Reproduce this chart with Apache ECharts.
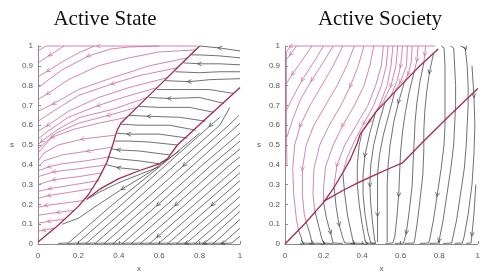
<!DOCTYPE html>
<html><head><meta charset="utf-8">
<script src="https://cdn.jsdelivr.net/npm/echarts@6/dist/echarts.min.js"></script>
<style>html,body{margin:0;padding:0;background:#fff}#c{width:483px;height:278px}</style>
</head><body><div id="c"></div>
<script>
// ---------- data ----------
const titles = ['Active State', 'Active Society'];
const xTicks = [0, 0.2, 0.4, 0.6, 0.8, 1];
const yTicks = [0, 0.1, 0.2, 0.3, 0.4, 0.5, 0.6, 0.7, 0.8, 0.9, 1];

// Active State: red boundary curves
const stateBoundA = [[0,0.01],[0.1,0.095],[0.2,0.19],[0.25,0.25],[0.3,0.33],[0.34,0.41],[0.37,0.5],[0.39,0.57],[0.41,0.61],[0.5,0.7],[0.6,0.8],[0.7,0.9],[0.8,1.0]];
const stateBoundB = [[1.0,0.79],[0.85,0.65],[0.69,0.5],[0.64,0.43],[0.6,0.405],[0.5,0.37],[0.4,0.33],[0.31,0.28],[0.24,0.225]];
// Active State: magenta streamlines (start -> end)
const statePink = [
 [[0.79,1.0],[0.55,1.0],[0.3,1.0],[0.04,1.0],[0.0,0.975]],
 [[0.13,1.0],[0.06,0.955],[0.0,0.915]],
 [[0.28,1.0],[0.2,0.965],[0.12,0.92],[0.05,0.875],[0,0.845]],
 [[0.6,1.0],[0.45,0.995],[0.36,0.985],[0.25,0.95],[0.12,0.88],[0.04,0.82],[0,0.79]],
 [[0.78,0.98],[0.6,0.97],[0.45,0.94],[0.3,0.9],[0.15,0.83],[0.05,0.76],[0,0.73]],
 [[0.74,0.94],[0.55,0.9],[0.37,0.84],[0.2,0.78],[0.08,0.71],[0,0.67]],
 [[0.69,0.89],[0.5,0.85],[0.37,0.81],[0.2,0.75],[0.09,0.68],[0,0.62]],
 [[0.64,0.84],[0.45,0.79],[0.3,0.74],[0.15,0.67],[0.05,0.6],[0,0.57]],
 [[0.59,0.79],[0.42,0.74],[0.3,0.7],[0.15,0.64],[0.05,0.57],[0,0.53]],
 [[0.54,0.74],[0.37,0.68],[0.21,0.64],[0.1,0.58],[0.02,0.52],[0,0.5]],
 [[0.49,0.69],[0.35,0.65],[0.2,0.61],[0.09,0.56],[0,0.48]],
 [[0.44,0.64],[0.3,0.61],[0.18,0.58],[0.07,0.54],[0,0.46]],
 [[0.385,0.55],[0.3,0.54],[0.22,0.53],[0.1,0.5],[0.03,0.46],[0,0.42]],
 [[0.37,0.49],[0.25,0.47],[0.12,0.45],[0.03,0.42],[0,0.39]],
 [[0.355,0.44],[0.236,0.42],[0.12,0.405],[0.055,0.39],[0,0.37]],
 [[0.34,0.4],[0.2,0.38],[0.08,0.365],[0,0.34]],
 [[0.32,0.36],[0.2,0.34],[0.08,0.325],[0,0.3]],
 [[0.3,0.32],[0.18,0.3],[0.06,0.28],[0,0.265]],
 [[0.27,0.28],[0.15,0.26],[0.055,0.245],[0,0.23]],
 [[0.23,0.22],[0.12,0.205],[0.04,0.195],[0,0.185]],
 [[0.18,0.17],[0.1,0.16],[0,0.145]],
 [[0.13,0.125],[0.055,0.115],[0,0.105]],
 [[0.08,0.08],[0.03,0.07],[0,0.065]]
];
// Active State: black streamlines
const stateBlack = [
 [[1,0.975],[0.9,0.99],[0.8,1.0]],
 [[1,0.94],[0.9,0.95],[0.8,0.955],[0.76,0.955]],
 [[1,0.905],[0.9,0.91],[0.8,0.91],[0.72,0.915]],
 [[1,0.87],[0.9,0.87],[0.8,0.865],[0.68,0.87]],
 [[1,0.835],[0.85,0.83],[0.75,0.82],[0.63,0.825]],
 [[0.97,0.76],[0.85,0.78],[0.72,0.78],[0.59,0.78]],
 [[0.92,0.71],[0.8,0.74],[0.65,0.735],[0.55,0.74]],
 [[0.87,0.665],[0.75,0.69],[0.6,0.69],[0.5,0.695]],
 [[0.83,0.62],[0.7,0.64],[0.55,0.645],[0.45,0.65]],
 [[0.78,0.575],[0.65,0.6],[0.5,0.6],[0.41,0.605]],
 [[0.74,0.535],[0.6,0.555],[0.45,0.555],[0.39,0.56]],
 [[0.69,0.5],[0.55,0.515],[0.45,0.52],[0.38,0.52]],
 [[0.65,0.45],[0.5,0.47],[0.4,0.475],[0.365,0.48]],
 [[0.6,0.405],[0.5,0.42],[0.4,0.43],[0.35,0.44]],
 [[0.5,0.375],[0.4,0.385],[0.34,0.4]],
 [[1,0.04],[0.96,0.005],[0.91,0.003]],
 [[1,0.08],[0.955,0.04],[0.915,0.005],[0.865,0.003]],
 [[1,0.125],[0.91,0.04],[0.87,0.005],[0.82,0.003]],
 [[1,0.165],[0.865,0.04],[0.825,0.005],[0.775,0.003]],
 [[1,0.2],[0.9,0.11],[0.82,0.04],[0.78,0.005],[0.73,0.003]],
 [[1,0.24],[0.955,0.2],[0.775,0.04],[0.735,0.005],[0.685,0.003]],
 [[1,0.28],[0.91,0.2],[0.73,0.04],[0.69,0.005],[0.64,0.003]],
 [[1,0.32],[0.865,0.2],[0.685,0.04],[0.645,0.005],[0.595,0.003]],
 [[1,0.36],[0.82,0.2],[0.64,0.04],[0.6,0.005],[0.55,0.003]],
 [[1,0.4],[0.775,0.2],[0.595,0.04],[0.555,0.005],[0.505,0.003]],
 [[1,0.44],[0.95,0.4],[0.73,0.2],[0.55,0.04],[0.51,0.005],[0.46,0.003]],
 [[1,0.48],[0.905,0.4],[0.685,0.2],[0.505,0.04],[0.465,0.005],[0.415,0.003]],
 [[1,0.52],[0.86,0.4],[0.64,0.2],[0.46,0.04],[0.42,0.005],[0.37,0.003]],
 [[1,0.56],[0.815,0.4],[0.595,0.2],[0.415,0.04],[0.375,0.005],[0.325,0.003]],
 [[1,0.61],[0.77,0.4],[0.55,0.2],[0.37,0.04],[0.33,0.005],[0.28,0.003]],
 [[0.995,0.65],[0.945,0.6],[0.725,0.4],[0.505,0.2],[0.325,0.04],[0.285,0.005],[0.235,0.003]],
 [[0.95,0.69],[0.9,0.6],[0.68,0.4],[0.46,0.2],[0.28,0.04],[0.24,0.005],[0.19,0.003]],
 [[0.9,0.64],[0.855,0.6],[0.635,0.4],[0.415,0.2],[0.235,0.04],[0.195,0.005],[0.145,0.003]],
 [[0.8,0.56],[0.59,0.38],[0.37,0.2],[0.19,0.04],[0.15,0.005],[0.1,0.003]],
 [[0.7,0.47],[0.55,0.36],[0.42,0.28],[0.3,0.2],[0.2,0.13],[0.12,0.1]],
 [[0.6,0.39],[0.5,0.35],[0.4,0.31],[0.3,0.26],[0.26,0.235]]
];

// Active Society: red boundary curves
const societyBoundA = [[0,0],[0.1,0.1],[0.2,0.21],[0.25,0.28],[0.3,0.36],[0.34,0.43],[0.375,0.51],[0.39,0.555],[0.47,0.665],[0.6,0.8],[0.7,0.9],[0.795,0.985]];
const societyBoundB = [[1.0,0.785],[0.85,0.645],[0.71,0.51],[0.61,0.41],[0.55,0.385],[0.47,0.35],[0.38,0.31],[0.3,0.27],[0.2,0.215]];
// Active Society: magenta streamlines
const societyPink = [
 [[0.78,1.0],[0.4,1.0],[0.03,1.0],[0.007,0.97],[0.007,0.6],[0.01,0.4]],
 [[0.06,1.0],[0.03,0.96],[0,0.925]],
 [[0.14,1.0],[0.09,0.93],[0.04,0.86],[0,0.8]],
 [[0.2,1.0],[0.15,0.92],[0.09,0.83],[0.04,0.74],[0,0.66]],
 [[0.25,1.0],[0.2,0.92],[0.14,0.83],[0.08,0.73],[0.04,0.63],[0.01,0.54]],
 [[0.3,1.0],[0.25,0.9],[0.19,0.8],[0.13,0.7],[0.08,0.6],[0.05,0.5],[0.04,0.38],[0.045,0.25],[0.06,0.12],[0.07,0.07]],
 [[0.36,1.0],[0.32,0.9],[0.27,0.8],[0.21,0.7],[0.15,0.6],[0.11,0.5],[0.09,0.38],[0.09,0.25],[0.1,0.15],[0.11,0.11]],
 [[0.41,1.0],[0.38,0.9],[0.34,0.8],[0.29,0.7],[0.23,0.6],[0.18,0.5],[0.15,0.38],[0.145,0.25],[0.155,0.165]],
 [[0.46,1.0],[0.44,0.9],[0.41,0.8],[0.36,0.7],[0.3,0.6],[0.25,0.5],[0.21,0.39],[0.2,0.28],[0.2,0.21]],
 [[0.51,1.0],[0.5,0.9],[0.47,0.8],[0.43,0.7],[0.37,0.6],[0.31,0.5],[0.27,0.4],[0.255,0.3],[0.255,0.285]],
 [[0.535,1.0],[0.525,0.9],[0.5,0.8],[0.46,0.7],[0.41,0.61],[0.36,0.52],[0.32,0.43],[0.3,0.36]],
 [[0.56,1.0],[0.55,0.9],[0.53,0.8],[0.49,0.7],[0.44,0.62],[0.4,0.565]],
 [[0.585,1.0],[0.575,0.9],[0.55,0.8],[0.51,0.72],[0.47,0.665]],
 [[0.61,1.0],[0.6,0.9],[0.58,0.82],[0.55,0.75],[0.52,0.72]],
 [[0.635,1.0],[0.63,0.9],[0.6,0.82],[0.57,0.77]],
 [[0.66,1.0],[0.655,0.92],[0.64,0.86],[0.62,0.82]],
 [[0.69,1.0],[0.685,0.93],[0.67,0.87]],
 [[0.73,1.0],[0.725,0.96],[0.72,0.915]]
];
// Active Society: black streamlines
const societyBlack = [
 [[0.07,0.07],[0.085,0.03],[0.09,0.005],[0.14,0.003]],
 [[0.11,0.11],[0.13,0.05],[0.14,0.005],[0.19,0.003]],
 [[0.155,0.165],[0.175,0.09],[0.19,0.03],[0.2,0.005],[0.25,0.003]],
 [[0.2,0.21],[0.215,0.13],[0.235,0.06],[0.25,0.005],[0.3,0.003]],
 [[0.255,0.285],[0.265,0.19],[0.28,0.1],[0.3,0.03],[0.31,0.005],[0.36,0.003]],
 [[0.3,0.36],[0.31,0.25],[0.325,0.14],[0.345,0.05],[0.355,0.005],[0.41,0.003]],
 [[0.4,0.565],[0.385,0.5],[0.375,0.4],[0.375,0.3],[0.385,0.2],[0.4,0.1],[0.415,0.02],[0.42,0.005],[0.47,0.003]],
 [[0.47,0.665],[0.44,0.56],[0.415,0.45],[0.405,0.35],[0.405,0.25],[0.415,0.15],[0.43,0.06],[0.445,0.005],[0.47,0.003]],
 [[0.52,0.72],[0.49,0.62],[0.46,0.5],[0.445,0.4],[0.44,0.3],[0.445,0.2],[0.455,0.1],[0.465,0.02],[0.47,0.005]],
 [[0.57,0.77],[0.54,0.66],[0.51,0.55],[0.49,0.45],[0.48,0.35],[0.48,0.25],[0.48,0.15],[0.48,0.05],[0.48,0.01]],
 [[0.62,0.82],[0.59,0.72],[0.565,0.62],[0.545,0.5],[0.535,0.4],[0.53,0.3],[0.53,0.2],[0.53,0.1],[0.53,0.01]],
 [[0.67,0.87],[0.645,0.77],[0.625,0.67],[0.61,0.57],[0.6,0.47],[0.595,0.37],[0.59,0.25],[0.58,0.13],[0.57,0.04],[0.56,0.005],[0.52,0.003]],
 [[0.72,0.915],[0.7,0.82],[0.685,0.72],[0.675,0.62],[0.67,0.52],[0.665,0.42],[0.66,0.3],[0.645,0.17],[0.63,0.06],[0.615,0.005],[0.57,0.003]],
 [[0.77,0.96],[0.75,0.87],[0.735,0.77],[0.725,0.67],[0.72,0.57],[0.72,0.47],[0.715,0.35],[0.7,0.22],[0.685,0.1],[0.67,0.005],[0.62,0.003]],
 [[0.81,1.0],[0.825,0.99],[0.83,0.9],[0.83,0.8],[0.83,0.7],[0.83,0.6],[0.825,0.5],[0.81,0.38],[0.79,0.25],[0.77,0.12],[0.75,0.02],[0.745,0.005],[0.7,0.003]],
 [[0.86,1.0],[0.875,0.99],[0.88,0.9],[0.885,0.8],[0.885,0.7],[0.88,0.6],[0.875,0.5],[0.86,0.38],[0.84,0.25],[0.82,0.12],[0.8,0.02],[0.795,0.005],[0.75,0.003]],
 [[0.91,1.0],[0.935,0.99],[0.945,0.9],[0.95,0.8],[0.95,0.7],[0.945,0.6],[0.94,0.5],[0.93,0.38],[0.91,0.25],[0.89,0.12],[0.87,0.03],[0.865,0.005],[0.82,0.003]],
 [[0.97,0.9],[0.98,0.75],[0.985,0.6],[0.98,0.45],[0.97,0.3],[0.95,0.15],[0.93,0.04],[0.92,0.005],[0.88,0.003]],
 [[0.99,0.3],[0.98,0.15],[0.97,0.05],[0.965,0.005],[0.94,0.003]]
];

// ---------- styles ----------
const PINK = '#c8679a', BLACK = '#333333', RED = '#a3294e', AXIS = '#8a8a8a';
const grids = [
  {left: 38, top: 46, width: 202, height: 204},
  {left: 285, top: 46, width: 205, height: 204}
];

// one arrow on every `every`-th streamline, at an interior vertex that varies from line to line
function arrowPoints(lines, gi, every) {
  const g = grids[gi], out = [];
  lines.forEach((l, k) => {
    const n = l.length;
    if (n < 3 || k % every !== 0) return;
    const span = n - 2;
    const i = 1 + ((k * 2 + 1) % span);
    const a = l[i - 1], b = l[i + 1];
    const ang = Math.atan2((b[1] - a[1]) * g.height, (b[0] - a[0]) * g.width) * 180 / Math.PI;
    out.push({value: l[i], symbolRotate: ang});
  });
  return out;
}

function streamSeries(lines, color, gi, width) {
  return {
    type: 'lines', coordinateSystem: 'cartesian2d', polyline: true,
    xAxisIndex: gi, yAxisIndex: gi, silent: true, clip: false,
    lineStyle: {color: color, width: width, opacity: 1},
    data: lines.map(c => ({coords: c}))
  };
}
function arrowSeries(lines, color, gi, every) {
  return {
    type: 'scatter', xAxisIndex: gi, yAxisIndex: gi, silent: true,
    symbol: 'path://M0,0L10,5L0,10', symbolSize: [4, 4],
    itemStyle: {color: 'rgba(0,0,0,0)', borderColor: color, borderWidth: 0.8},
    data: arrowPoints(lines, gi, every), z: 3
  };
}
function boundSeries(pts, gi) {
  return {
    type: 'line', xAxisIndex: gi, yAxisIndex: gi, silent: true, showSymbol: false,
    symbol: 'none', smooth: false, clip: false, z: 4,
    lineStyle: {color: RED, width: 1.3}, data: pts
  };
}

const axisCommon = {
  min: 0, max: 1,
  axisLine: {show: true, lineStyle: {color: AXIS, width: 1}},
  axisTick: {show: true, inside: true, length: 3, lineStyle: {color: AXIS}},
  splitLine: {show: false},
  axisLabel: {color: '#555', fontSize: 8, fontFamily: 'Liberation Sans, Arial', margin: 5},
  nameTextStyle: {color: '#555', fontSize: 8, fontFamily: 'Liberation Sans, Arial'}
};
const xAxes = [0, 1].map(i => Object.assign({}, axisCommon, {
  gridIndex: i, type: 'value', interval: xTicks[1] - xTicks[0],
  name: 'x', nameLocation: 'middle', nameGap: 21,
  axisLabel: Object.assign({}, axisCommon.axisLabel, {margin: 8})
}));
const yAxes = [0, 1].map(i => Object.assign({}, axisCommon, {
  gridIndex: i, type: 'value', interval: yTicks[1] - yTicks[0],
  name: 's', nameLocation: 'middle', nameGap: 24, nameRotate: 0
}));

const chart = echarts.init(document.getElementById('c'), null, {renderer: 'canvas'});
chart.setOption({
  animation: false,
  backgroundColor: '#fff',
  title: [
    {text: titles[0], left: 100, top: 4, textAlign: 'center',
     textStyle: {fontFamily: 'Liberation Serif, Times New Roman, serif', fontSize: 21, fontWeight: 'normal', color: '#111'}},
    {text: titles[1], left: 375, top: 4, textAlign: 'center',
     textStyle: {fontFamily: 'Liberation Serif, Times New Roman, serif', fontSize: 21, fontWeight: 'normal', color: '#111'}}
  ],
  grid: grids,
  xAxis: xAxes,
  yAxis: yAxes,
  series: [
    streamSeries(statePink, PINK, 0, 0.8),
    streamSeries(stateBlack, BLACK, 0, 0.7),
    arrowSeries(statePink, PINK, 0, 1),
    arrowSeries(stateBlack, BLACK, 0, 2),
    boundSeries(stateBoundA, 0),
    boundSeries(stateBoundB, 0),
    streamSeries(societyPink, PINK, 1, 0.8),
    streamSeries(societyBlack, BLACK, 1, 0.7),
    arrowSeries(societyPink, PINK, 1, 1),
    arrowSeries(societyBlack, BLACK, 1, 1),
    boundSeries(societyBoundA, 1),
    boundSeries(societyBoundB, 1)
  ]
});
</script></body></html>
